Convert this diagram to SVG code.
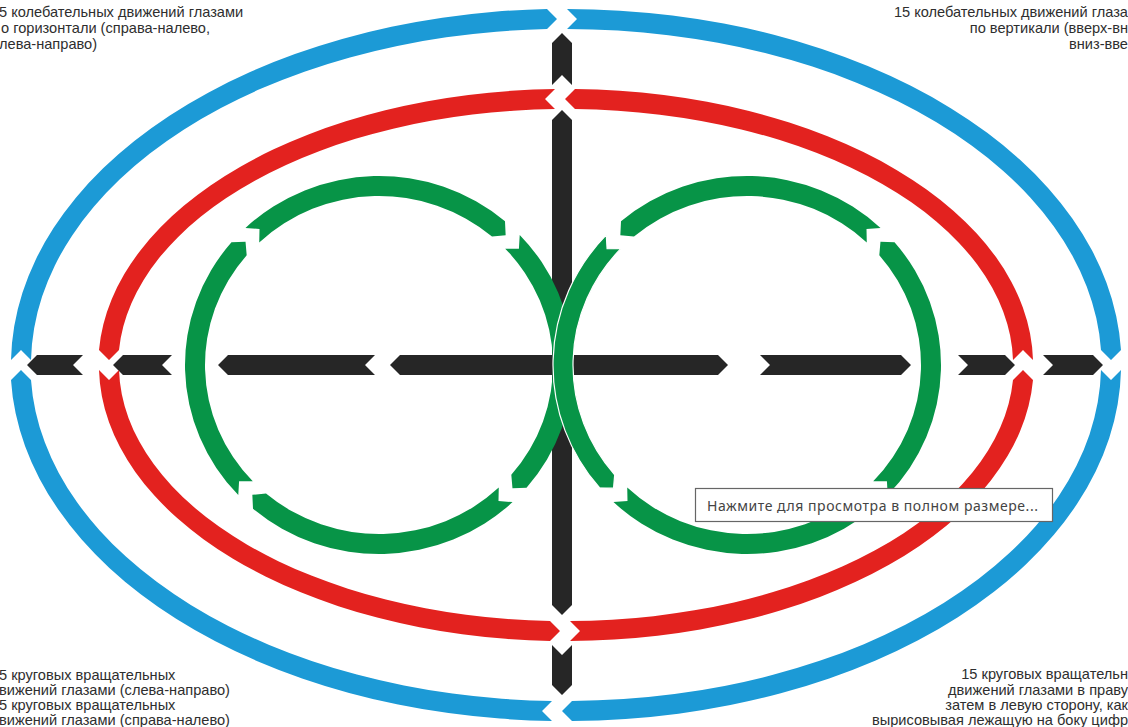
<svg xmlns="http://www.w3.org/2000/svg" width="1128" height="727" viewBox="0 0 1128 727">
<style>
.b{fill:#1c9ad6}.r{fill:#e3221f}.g{fill:#079447}.k{fill:#262626}
.t{font-family:"Liberation Sans",Arial,sans-serif;font-size:14.6px;fill:#2e2e2e}
.e{text-anchor:end}
.tip{font-family:"Noto Sans","Open Sans",sans-serif;font-size:14px;fill:#444}
</style>
<rect width="1128" height="727" fill="#fff"/>
<g id="axes">
<polygon class="k" points="562,33 572,43 572,85 562,75 552,85 552,43"/>
<polygon class="k" points="562,110 572,120 572,605 562,615 552,605 552,120"/>
<polygon class="k" points="552,645 562,655 572,645 572,685 562,695 552,685"/>
<polygon class="k" points="390,365 400,355 718,355 728,365 718,375 400,375"/>
<polygon class="k" points="760,355 901,355 911,365 901,375 760,375 770,365"/>
<polygon class="k" points="958,355 1005,355 1015,365 1005,375 958,375 968,365"/>
<polygon class="k" points="1043,355 1093,355 1103,365 1093,375 1043,375 1053,365"/>
<polygon class="k" points="218,365 228,355 375,355 365,365 375,375 228,375"/>
<polygon class="k" points="113,365 123,355 172,355 162,365 172,375 123,375"/>
<polygon class="k" points="27,365 37,355 83,355 73,365 83,375 37,375"/>
</g>
<g id="blue-ellipse">
<path class="b" d="M567,9 A555,356 0 0 1 1121,350 L1111,360 L1101,350 A535,336 0 0 0 567,29 L577,19 Z"/>
<path class="b" d="M1121,370 A555,356 0 0 1 572,721 L562,711 L572,701 A535,336 0 0 0 1101,370 L1111,380 Z"/>
<path class="b" d="M552,721 A555,356 0 0 1 11,380 L21,370 L31,380 A535,336 0 0 0 552,701 L542,711 Z"/>
<path class="b" d="M11,360 A555,356 0 0 1 547,9 L557,19 L547,29 A535,336 0 0 0 31,360 L21,350 Z"/>
</g>
<g id="red-ellipse">
<path class="r" d="M555,89 A467,276 0 0 0 99,350 L109,360 L119,350 A447,256 0 0 1 555,109 L545,99 Z"/>
<path class="r" d="M99,370 A467,276 0 0 0 550,641 L560,631 L550,621 A447,256 0 0 1 119,370 L109,380 Z"/>
<path class="r" d="M570,641 A467,276 0 0 0 1033,380 L1023,370 L1013,380 A447,256 0 0 1 570,621 L580,631 Z"/>
<path class="r" d="M1033,360 A467,276 0 0 0 575,89 L565,99 L575,109 A447,256 0 0 1 1013,360 L1023,350 Z"/>
</g>
<g id="green-left">
<path class="g" d="M245.46,227.91 A194,189 0 0 1 504.99,221.28 L505.66,235.16 L492.00,236.49 A174,169 0 0 0 259.23,242.41 L259.50,228.89 Z"/>
<path class="g" d="M519.72,234.90 A194,189 0 0 1 526.52,487.75 L512.47,488.21 L511.31,474.76 A174,169 0 0 0 505.21,248.67 L518.92,248.75 Z"/>
<path class="g" d="M512.54,502.09 A194,189 0 0 1 253.01,508.72 L252.34,494.84 L266.00,493.51 A174,169 0 0 0 498.77,487.59 L498.50,501.11 Z"/>
<path class="g" d="M238.28,495.10 A194,189 0 0 1 231.48,242.25 L245.53,241.79 L246.69,255.24 A174,169 0 0 0 252.79,481.33 L239.08,481.25 Z"/>
</g>
<g id="green-right">
<path class="g" d="M880.54,227.91 A194,189 0 0 0 621.01,221.28 L620.34,235.16 L634.00,236.49 A174,169 0 0 1 866.77,242.41 L866.50,228.89 Z"/>
<path class="g" stroke="#fff" stroke-width="1.2" d="M606.28,234.90 A194,189 0 0 0 599.48,487.75 L613.53,488.21 L614.69,474.76 A174,169 0 0 1 620.79,248.67 L607.08,248.75 Z"/>
<path class="g" d="M613.46,502.09 A194,189 0 0 0 872.99,508.72 L873.66,494.84 L860.00,493.51 A174,169 0 0 1 627.23,487.59 L627.50,501.11 Z"/>
<path class="g" d="M887.72,495.10 A194,189 0 0 0 894.52,242.25 L880.47,241.79 L879.31,255.24 A174,169 0 0 1 873.21,481.33 L886.92,481.25 Z"/>
</g>
<g id="label-top-left">
<text class="t" x="-1" y="16.5">5 колебательных движений глазами</text>
<text class="t" x="1" y="32.5">о горизонтали (справа-налево,</text>
<text class="t" x="-1" y="48.5">лева-направо)</text>
</g>
<g id="label-top-right">
<text class="t e" x="1128" y="16.5">15 колебательных движений глаза</text>
<text class="t e" x="1128" y="32.5">по вертикали (вверх-вн</text>
<text class="t e" x="1128" y="48.5">вниз-вве</text>
</g>
<g id="label-bottom-left">
<text class="t" x="-1" y="680">5 круговых вращательных</text>
<text class="t" x="-1" y="695">вижений глазами (слева-направо)</text>
<text class="t" x="-1" y="710">5 круговых вращательных</text>
<text class="t" x="-1" y="725">вижений глазами (справа-налево)</text>
</g>
<g id="label-bottom-right">
<text class="t e" x="1128" y="679">15 круговых вращательн</text>
<text class="t e" x="1128" y="694.5">движений глазами в праву</text>
<text class="t e" x="1128" y="710">затем в левую сторону, как</text>
<text class="t e" x="1128" y="725">вырисовывая лежащую на боку цифр</text>
</g>
<g id="tooltip">
<rect x="695.5" y="488.5" width="357" height="33" fill="#fff" stroke="#666" stroke-width="1.2"/>
<text class="tip" x="707" y="511" textLength="331">Нажмите для просмотра в полном размере...</text>
</g>
</svg>
